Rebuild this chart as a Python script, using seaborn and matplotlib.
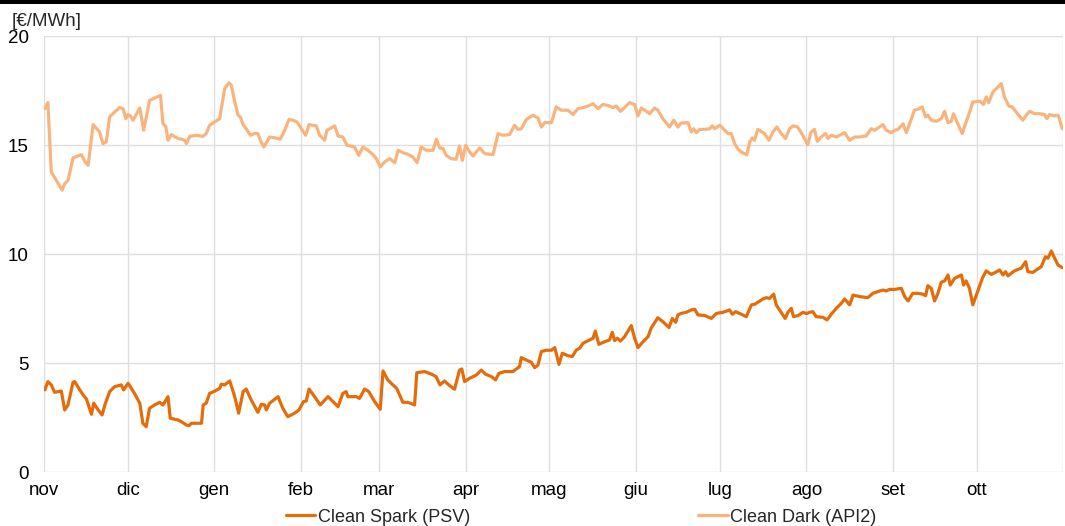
import matplotlib
matplotlib.use("Agg")
import matplotlib.pyplot as plt
import seaborn as sns
import pandas as pd
import numpy as np
from matplotlib.patches import Rectangle

# ---------------- data (day offset from 1 Nov 2022, value in EUR/MWh) ----------------
dark_days = [0.3, 1.4, 2.6, 4.4, 6.5, 7.4, 8.6, 10.4, 13.4, 14.6, 15.8, 17.0, 17.6, 19.9, 21.1, 22.3,
             23.5, 25.3, 27.1, 28.3, 29.3, 30.1, 30.9, 31.9, 34.3, 35.7, 37.8, 41.7, 42.6, 43.6, 44.4,
             45.6, 48.0, 49.2, 50.4, 51.0, 52.2, 54.6, 56.9, 58.1, 59.3, 61.1,
             62.9, 64.7, 66.2, 67.1, 68.3, 69.5, 70.3, 71.3, 72.4, 73.9, 75.4, 76.6, 77.5, 78.7, 80.8,
             82.6, 84.6, 86.2, 87.7, 89.2, 90.6, 92.2, 93.7, 94.9, 97.5, 98.7, 100.5, 101.3, 104.1,
             105.3, 107.0, 108.5, 111.2, 112.7, 114.2, 116.0, 117.8, 119.0, 120.4, 122.0,
             123.8, 125.6, 126.8, 128.5, 130.3, 132.1, 133.6, 135.1, 136.9, 139.3, 140.5, 141.7, 142.9,
             144.0, 145.8, 147.6, 148.8, 149.8, 151.0, 152.4, 153.6, 156.0, 157.8, 160.8, 162.6, 164.3,
             166.7, 168.5, 169.7, 170.9, 172.7, 175.1, 176.9, 178.1, 179.3, 181.7,
             183.4, 185.2, 187.6, 189.4, 191.2, 193.0, 194.8, 196.6, 198.4, 200.1, 201.9, 203.7, 204.9,
             206.4, 207.9, 209.7, 211.5, 212.7, 213.9, 215.7, 216.9, 218.6, 219.8, 221.6, 224.0, 225.5,
             227.0, 228.2, 230.6, 231.8, 232.6, 233.6, 234.8, 236.6, 238.4, 239.3, 240.2, 242.0,
             244.9, 246.1, 247.3, 248.5, 250.1, 251.7, 252.7, 253.6, 254.4, 255.6, 258.0, 259.6, 261.0,
             262.4, 264.0, 265.5, 267.0, 268.2, 269.9, 271.7, 273.5, 274.7, 275.9, 276.9, 278.3, 279.9,
             280.7, 281.9, 283.7, 286.7, 288.5, 290.3, 292.1, 294.4, 296.2, 297.4, 299.2, 300.4, 301.6,
             303.4, 304.6,
             305.8, 307.6, 308.8, 310.2, 311.7, 312.9, 314.5, 315.7, 316.5, 317.7, 319.5, 321.3, 322.5,
             323.7, 324.9, 325.7, 327.2, 328.8, 330.2, 331.4, 332.6, 335.2, 336.4, 337.4, 338.3, 339.8,
             341.6, 342.8, 343.9, 345.5, 346.7, 348.1, 350.5, 351.9, 352.9, 354.7, 356.5, 358.3, 359.1,
             360.1, 361.9, 363.1, 363.6, 364.6]
dark_vals = [16.68, 16.96, 13.78, 13.39, 12.94, 13.24, 13.39, 14.42, 14.57, 14.27, 14.08, 15.31, 15.95,
             15.61, 15.08, 15.15, 16.30, 16.53, 16.73, 16.68, 16.22, 16.41, 16.35, 16.15, 16.71, 15.69,
             17.06, 17.29, 15.99, 15.87, 15.23, 15.49, 15.31, 15.28, 15.23, 15.08, 15.41, 15.46, 15.41,
             15.54, 15.92, 16.07,
             16.22, 17.60, 17.87, 17.75, 16.99, 16.38, 16.30, 15.95, 15.76, 15.46, 15.54, 15.54, 15.23,
             14.92, 15.38, 15.34, 15.28, 15.69, 16.18, 16.15, 16.07, 15.76, 15.46, 15.95, 15.89, 15.46,
             15.23, 15.69, 15.89, 15.43, 15.38, 15.00, 14.92, 14.54, 14.92, 14.77, 14.57, 14.39, 14.01,
             14.24,
             14.39, 14.20, 14.77, 14.66, 14.59, 14.46, 14.20, 14.92, 14.77, 14.77, 15.28, 14.88, 14.85,
             14.54, 14.39, 14.36, 14.97, 14.31, 15.00, 14.69, 14.51, 14.88, 14.62, 14.57, 15.54, 15.46,
             15.49, 15.92, 15.73, 15.76, 16.18, 16.38, 16.25, 15.84, 16.04, 16.04,
             16.76, 16.61, 16.61, 16.41, 16.68, 16.73, 16.80, 16.91, 16.68, 16.87, 16.83, 16.73, 16.80,
             16.56, 16.73, 16.96, 16.87, 16.35, 16.71, 16.56, 16.45, 16.71, 16.61, 16.22, 15.84, 16.15,
             15.84, 16.02, 16.04, 15.61, 15.76, 15.58, 15.73, 15.73, 15.76, 15.89, 15.76, 15.92,
             15.54, 15.54, 15.08, 14.82, 14.66, 14.57, 15.15, 15.34, 15.23, 15.73, 15.54, 15.23, 15.61,
             15.84, 15.54, 15.31, 15.76, 15.89, 15.84, 15.46, 15.03, 15.61, 15.73, 15.18, 15.38, 15.54,
             15.31, 15.46, 15.38, 15.58, 15.23, 15.38, 15.38, 15.43, 15.76, 15.69, 15.84, 15.95, 15.69,
             15.58, 15.69,
             15.73, 15.99, 15.58, 16.07, 16.61, 16.65, 16.76, 16.30, 16.38, 16.15, 16.10, 16.22, 16.56,
             16.04, 16.10, 16.45, 15.99, 15.54, 16.07, 16.50, 16.99, 17.02, 16.87, 17.22, 16.96, 17.45,
             17.68, 17.83, 17.22, 16.80, 16.76, 16.53, 16.15, 16.41, 16.56, 16.45, 16.45, 16.41, 16.22,
             16.41, 16.35, 16.38, 16.22, 15.76]

spark_days = [0.3, 1.4, 2.6, 3.8, 6.2, 7.4, 8.6, 10.4, 11.0, 12.8, 14.0, 15.2, 17.0, 17.8, 19.4, 20.8,
              21.8, 23.5, 25.3, 27.7, 28.5, 30.1, 30.9, 32.4, 34.3, 35.4, 36.6, 37.8, 39.6, 41.4, 42.6,
              44.4, 45.2, 48.0, 49.2, 51.0, 51.9, 52.8, 56.4, 57.0, 58.1, 59.3, 61.1,
              62.9, 63.5, 64.7, 66.5, 68.3, 69.7, 71.3, 72.4, 74.2, 76.6, 77.8, 79.0, 79.6, 80.8, 83.8,
              85.5, 87.3, 89.7, 91.3, 92.9, 93.9, 94.9, 96.9, 98.9, 101.7, 103.5, 105.3, 107.0, 108.2,
              108.8, 111.8, 113.0, 114.8, 116.3, 118.4, 120.4, 121.4,
              123.1, 124.9, 126.3, 128.5, 130.3, 132.7, 133.5, 136.3, 138.6, 140.4, 141.8, 143.4, 145.2,
              147.0, 148.8, 149.6, 150.6, 152.4, 154.8, 156.6, 158.1, 160.2, 161.7, 162.9, 164.9, 167.9,
              170.3, 170.9, 172.7, 174.5, 175.7, 176.9, 178.1, 179.9, 181.7, 182.9,
              184.4, 185.6, 187.6, 189.2, 190.6, 191.8, 193.0, 195.4, 196.6, 197.4, 198.7, 200.7, 202.5,
              203.5, 204.3, 205.3, 206.4, 207.9, 210.3, 211.5, 212.7, 214.5, 216.3, 217.4, 219.8, 221.6,
              223.8, 225.0, 226.2, 227.0, 228.2, 230.0, 231.8, 233.0, 234.2, 236.6, 239.0, 240.8, 243.2,
              245.5, 246.5, 247.7, 249.7, 251.5, 253.3, 254.5, 256.0, 257.4, 258.6, 259.8, 261.3, 262.2,
              263.4, 265.4, 266.4, 267.6, 268.4, 270.0, 271.8, 273.0, 274.2, 275.3, 276.5, 278.9, 280.4,
              281.9, 283.7, 285.5, 286.7, 288.5, 289.7, 292.1, 295.0, 296.8, 298.6, 300.4, 301.6, 302.8,
              304.6,
              307.0, 308.2, 309.4, 311.1, 312.9, 314.7, 315.7, 316.5, 317.7, 318.9, 320.1, 321.3, 322.5,
              323.7, 324.5, 326.1, 328.5, 329.3, 330.2, 331.4, 332.6, 334.1, 336.0, 337.4, 339.2, 340.7,
              342.2, 343.4, 344.3, 345.2, 346.4, 347.5, 349.9, 351.5, 352.3, 354.1, 355.3, 357.1, 358.6,
              359.5, 360.7, 361.9, 363.1, 364.6]
spark_vals = [3.78, 4.16, 4.01, 3.67, 3.73, 2.86, 3.09, 4.13, 4.16, 3.78, 3.55, 3.36, 2.66, 3.17, 2.86,
              2.63, 3.09, 3.70, 3.93, 4.01, 3.78, 4.08, 3.93, 3.62, 3.17, 2.25, 2.09, 2.94, 3.09, 3.21,
              3.09, 3.47, 2.48, 2.40, 2.32, 2.17, 2.14, 2.25, 2.25, 3.09, 3.17, 3.62, 3.72,
              3.85, 4.04, 4.01, 4.19, 3.47, 2.71, 3.70, 3.82, 3.32, 2.75, 3.12, 3.09, 2.86, 3.17, 3.47,
              2.94, 2.55, 2.71, 2.86, 3.24, 3.27, 3.82, 3.47, 3.09, 3.47, 3.24, 3.01, 3.62, 3.70, 3.47,
              3.47, 3.39, 3.82, 3.70, 3.24, 2.89, 4.65,
              4.24, 4.01, 3.85, 3.21, 3.21, 3.09, 4.57, 4.62, 4.51, 4.39, 4.01, 4.19, 3.98, 3.81, 4.69,
              4.74, 4.16, 4.31, 4.46, 4.69, 4.50, 4.39, 4.24, 4.54, 4.62, 4.62, 4.85, 5.26, 5.15, 5.05,
              4.80, 4.92, 5.54, 5.60, 5.60, 5.72,
              4.95, 5.46, 5.35, 5.31, 5.61, 5.69, 5.92, 6.07, 6.15, 6.48, 5.87, 5.99, 6.07, 6.42, 6.04,
              6.15, 6.02, 6.22, 6.73, 6.15, 5.72, 5.99, 6.22, 6.61, 7.09, 6.91, 6.64, 7.06, 6.88, 7.22,
              7.29, 7.34, 7.45, 7.48, 7.22, 7.19, 7.06, 7.29, 7.34,
              7.45, 7.25, 7.37, 7.25, 7.14, 7.68, 7.71, 7.83, 7.95, 8.01, 7.98, 8.17, 7.68, 7.45, 7.06,
              7.34, 7.52, 7.14, 7.19, 7.34, 7.28, 7.34, 7.37, 7.14, 7.11, 6.99, 7.25, 7.52, 7.75, 7.95,
              7.68, 8.13, 8.06, 8.01, 8.21, 8.29, 8.36, 8.32, 8.39, 8.39,
              8.44, 8.06, 7.86, 8.21, 8.21, 8.17, 8.10, 8.56, 8.44, 7.86, 8.21, 8.72, 8.78, 9.05, 8.59,
              8.90, 9.05, 8.59, 8.78, 8.44, 7.68, 8.21, 8.90, 9.24, 9.08, 9.17, 9.28, 9.05, 9.20, 9.01,
              9.13, 9.24, 9.36, 9.66, 9.20, 9.17, 9.28, 9.43, 9.89, 9.82, 10.15, 9.82, 9.51, 9.39]

series_names = ["Clean Spark (PSV)", "Clean Dark (API2)"]
month_labels = ["nov", "dic", "gen", "feb", "mar", "apr", "mag", "giu", "lug", "ago", "set", "ott"]
y_ticks = [0, 5, 10, 15, 20]
unit_label = "[€/MWh]"
start_date = "2022-11-01"

# ---------------- build table ----------------
t0 = pd.Timestamp(start_date)
df = pd.concat([
    pd.DataFrame({"date": t0 + pd.to_timedelta(spark_days, unit="D"), "value": spark_vals,
                  "series": series_names[0]}),
    pd.DataFrame({"date": t0 + pd.to_timedelta(dark_days, unit="D"), "value": dark_vals,
                  "series": series_names[1]}),
], ignore_index=True)

sns.set_theme(style="white")
plt.rcParams["font.family"] = ["Liberation Sans", "DejaVu Sans"]

W, H = 1065, 526
fig = plt.figure(figsize=(W / 100, H / 100), dpi=100)
ax = fig.add_axes([44 / W, 1 - 472.3 / H, (1063.3 - 44) / W, (472.3 - 36.3) / H])

palette = {series_names[0]: "#E46C0A", series_names[1]: "#F9B47E"}
sns.lineplot(data=df, x="date", y="value", hue="series", palette=palette, estimator=None,
             sort=False, linewidth=2.3, ax=ax)

month_starts = pd.date_range(t0, periods=13, freq="MS")
ax.set_xlim(month_starts[0], month_starts[-1])
ax.set_xticks(month_starts)
ax.set_xticklabels(month_labels + [""])
ax.set_ylim(0, 20)
ax.set_yticks(y_ticks)
ax.set_yticklabels([str(v) for v in y_ticks])
ax.grid(True, color="#DEDEDE", linewidth=1.0)
ax.set_axisbelow(True)
for s in ax.spines.values():
    s.set_visible(False)
ax.tick_params(axis="both", length=0, labelsize=13.5, colors="#000000")
ax.tick_params(axis="y", pad=11)
ax.tick_params(axis="x", pad=7)
ax.set_xlabel("")
ax.set_ylabel("")

handles, labels = ax.get_legend_handles_labels()
ax.get_legend().remove()
fig.legend(handles, labels, loc="center", bbox_to_anchor=(581 / W, 1 - 517 / H), ncol=2,
           frameon=False, fontsize=13, handlelength=1.65, handletextpad=0.15,
           columnspacing=12.6, borderaxespad=0, borderpad=0)

fig.text(12 / W, 1 - 22 / H, unit_label, fontsize=13.5, ha="left", va="center")
fig.patches.append(Rectangle((0, 1 - 4 / H), 1, 4 / H, transform=fig.transFigure,
                             facecolor="black", edgecolor="none", zorder=10))

fig.savefig("out.png", dpi=100)
